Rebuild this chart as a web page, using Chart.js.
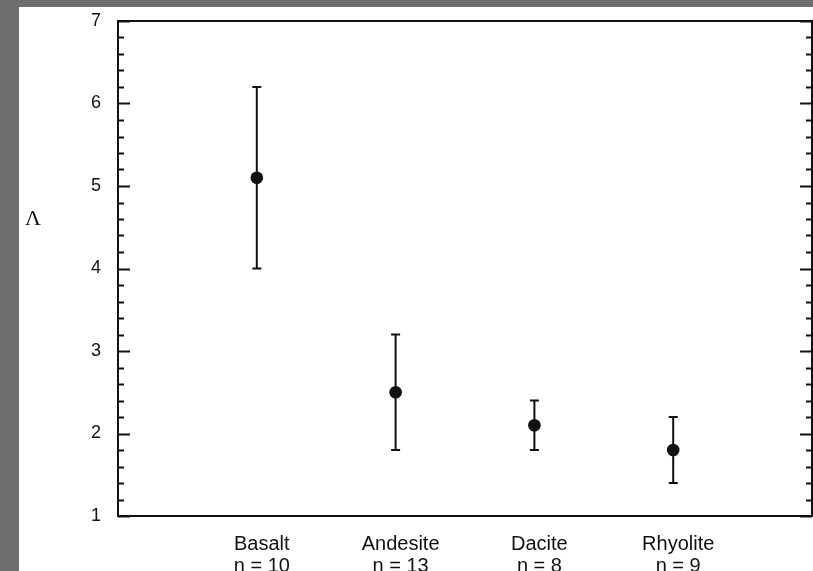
<!DOCTYPE html>
<html>
<head>
<meta charset="utf-8">
<script src="https://cdn.jsdelivr.net/npm/chart.js@4/dist/chart.umd.min.js"></script>
<style>
  html, body { margin: 0; padding: 0; background: #6d6d6d; overflow: hidden; }
  #sheet { position: absolute; left: 19px; top: 7px; width: 794px; height: 564px; background: #fff; }
  #plot { display: block; }
</style>
</head>
<body>
<div id="sheet"><canvas id="plot" width="794" height="564"></canvas></div>
<script>
const rocks = ['Basalt', 'Andesite', 'Dacite', 'Rhyolite'];
const counts = [10, 13, 8, 9];
const means = [5.1, 2.5, 2.1, 1.8];
const upper = [6.2, 3.2, 2.4, 2.2];
const lower = [4.0, 1.8, 1.8, 1.4];
const yTicks = [1, 2, 3, 4, 5, 6, 7];

// empty slots either side so the groups sit at 1..4 on a 0..5 axis
const labels = [''].concat(rocks.map((r, i) => [r, 'n = ' + counts[i]]), ['']);
const points = [null].concat(means, [null]);

const INK = '#111';

// fixed axis sizes; drop the label overhang Chart.js reserves at the ends
function fixSize(w, h) {
    return s => {
        if (w !== null) s.width = w;
        if (h !== null) s.height = h;
        s.paddingTop = s.paddingBottom = s.paddingLeft = s.paddingRight = 0;
    };
}

const errorBars = {
    id: 'errorBars',
    beforeDatasetsDraw(chart) {
        const { ctx, scales: { x, y } } = chart;
        ctx.save();
        ctx.strokeStyle = INK;
        ctx.lineWidth = 2;
        rocks.forEach((r, i) => {
            const px = x.getPixelForValue(i + 1);
            const top = y.getPixelForValue(upper[i]);
            const bot = y.getPixelForValue(lower[i]);
            ctx.beginPath();
            ctx.moveTo(px, top); ctx.lineTo(px, bot);
            ctx.moveTo(px - 4.5, top); ctx.lineTo(px + 4.5, top);
            ctx.moveTo(px - 4.5, bot); ctx.lineTo(px + 4.5, bot);
            ctx.stroke();
        });
        ctx.restore();
    }
};

// inward ticks on both vertical sides, minor every 0.2
const inwardTicks = {
    id: 'inwardTicks',
    afterDraw(chart) {
        const { ctx, chartArea, scales: { y } } = chart;
        ctx.save();
        ctx.strokeStyle = INK;
        ctx.lineWidth = 2;
        for (let i = 0; i <= 30; i++) {
            const v = 1 + i / 5;
            const py = Math.round(y.getPixelForValue(v)) + 0.5;
            const len = i % 5 === 0 ? 12 : 6;
            ctx.beginPath();
            ctx.moveTo(chartArea.left, py); ctx.lineTo(chartArea.left + len, py);
            ctx.moveTo(chartArea.right, py); ctx.lineTo(chartArea.right - len, py);
            ctx.stroke();
        }
        ctx.fillStyle = INK;
        ctx.font = '22px "Liberation Serif", serif';
        ctx.textAlign = 'left';
        ctx.textBaseline = 'middle';
        ctx.fillText('\u039B', 6, 212);
        ctx.restore();
    }
};

new Chart(document.getElementById('plot'), {
    type: 'line',
    data: {
        labels: labels,
        datasets: [{
            data: points,
            showLine: false,
            pointRadius: 6.3,
            pointHoverRadius: 6.3,
            pointBackgroundColor: INK,
            pointBorderColor: INK,
            pointBorderWidth: 0
        }]
    },
    options: {
        responsive: false,
        animation: false,
        layout: { autoPadding: false, padding: { top: 14, right: 1, left: 0, bottom: 0 } },
        plugins: { legend: { display: false }, tooltip: { enabled: false } },
        scales: {
            x: {
                type: 'category',
                offset: false,
                grid: { display: false, drawTicks: false },
                border: { color: INK, width: 2 },
                ticks: {
                    autoSkip: false,
                    maxRotation: 0,
                    padding: 17,
                    labelOffset: 5,
                    color: INK,
                    font: { family: '"Liberation Sans", Arial, sans-serif', size: 20, lineHeight: 1.1 }
                },
                afterFit: fixSize(null, 55)
            },
            xTop: {
                type: 'category',
                position: 'top',
                offset: false,
                grid: { display: false, drawTicks: false },
                border: { color: INK, width: 2 },
                ticks: { display: false },
                afterFit: fixSize(null, 0)
            },
            y: {
                min: 1,
                max: 7,
                afterBuildTicks(s) { s.ticks = yTicks.map(v => ({ value: v })); },
                grid: { display: false, drawTicks: false },
                border: { color: INK, width: 2 },
                ticks: {
                    padding: 17,
                    color: INK,
                    font: { family: '"Liberation Sans", Arial, sans-serif', size: 18 }
                },
                afterFit: fixSize(99, null)
            },
            yRight: {
                position: 'right',
                min: 1,
                max: 7,
                grid: { display: false, drawTicks: false },
                border: { color: INK, width: 2 },
                ticks: { display: false },
                afterFit: fixSize(0, null)
            }
        }
    },
    plugins: [errorBars, inwardTicks]
});
</script>
</body>
</html>
